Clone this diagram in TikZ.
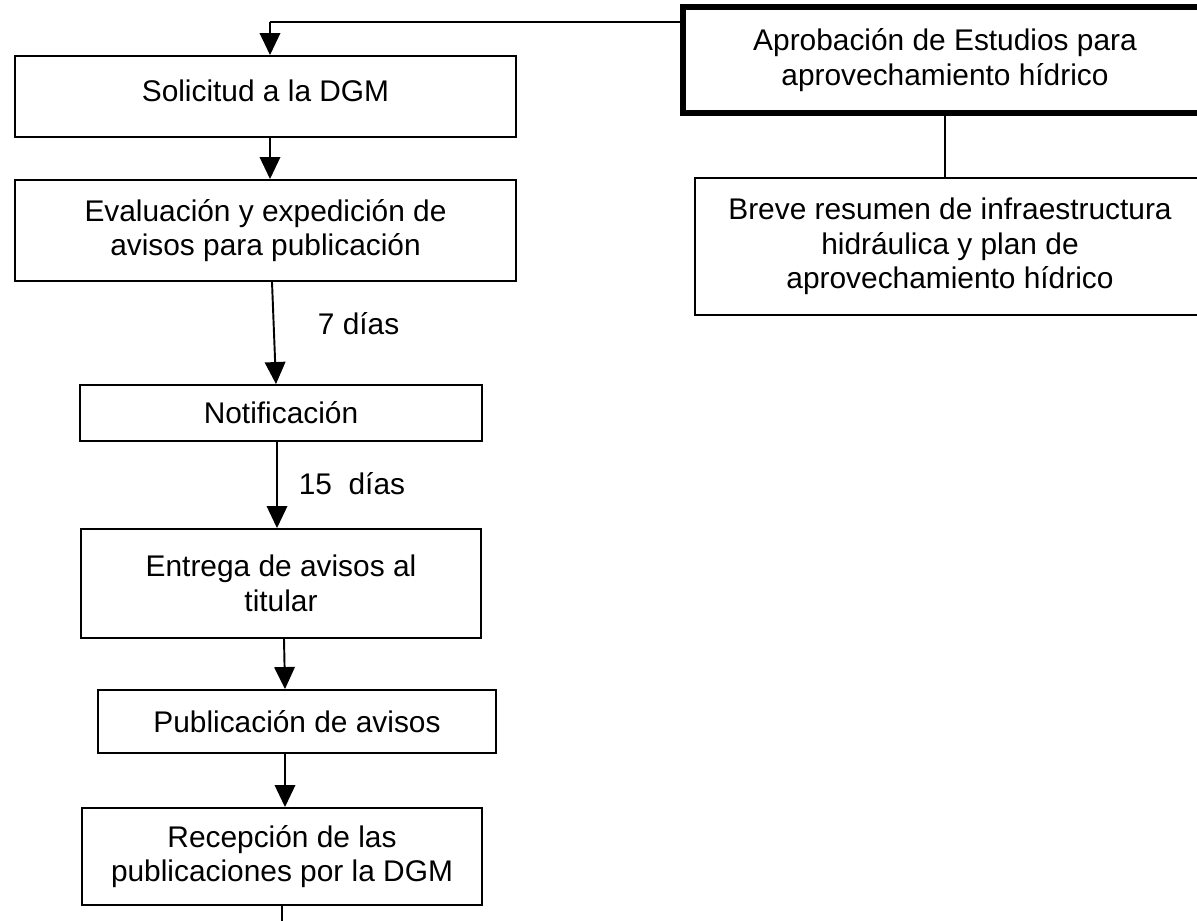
\documentclass[tikz,border=0pt]{standalone}
\usepackage{fontspec}
\setmainfont{Liberation Sans}
\usetikzlibrary{arrows.meta}

\begin{document}
\begin{tikzpicture}[x=0.02cm,y=-0.02cm,line width=1.1pt,->,>={Triangle[length=0.44cm,width=0.41cm]},font=\fontsize{17}{19.6}\selectfont,main node/.style={rectangle,draw,align=center,inner sep=0pt},thick node/.style={main node,line width=0.12cm}]
				
				\useasboundingbox (0,0) rectangle (1197,920);
				
				\node[main node,minimum width=10.02cm,minimum height=1.62cm] (1) at (265.5,96.5) {\raisebox{0.24cm}{Solicitud a la DGM}};
				\node[main node,minimum width=10.02cm,minimum height=2.02cm] (2) at (265.5,230.5) {Evaluación y expedición de\\avisos para publicación};
				\node[main node,minimum width=8.04cm,minimum height=1.12cm] (3) at (281,413) {Notificación};
				\node[main node,minimum width=8.0cm,minimum height=2.18cm] (4) at (281,583.5) {Entrega de avisos al\\titular};
				\node[main node,minimum width=7.96cm,minimum height=1.26cm] (5) at (297,721.5) {Publicación de avisos};
				\node[main node,minimum width=8.0cm,minimum height=1.94cm] (6) at (282,856.5) {Recepción de las\\publicaciones por la DGM};
				
				\node[thick node,minimum width=10.48cm,minimum height=2.12cm] (7) at (945,60) {Aprobación de Estudios para\\aprovechamiento hídrico};
				\node[main node,minimum width=10.2cm,minimum height=2.74cm] (8) at (950,246.5) {Breve resumen de infraestructura\\hidráulica y plan de\\aprovechamiento hídrico};
				
				\coordinate (top) at (270,22);
				\coordinate (end) at (282,935);
				
				\draw[-] (7.west |- top) -- (top);
				\draw (top) -- (top |- 1.north);
				\path[] ([xshift=0.09cm]1.south) edge ([xshift=0.09cm]2.north);
				\path[] ([xshift=0.13cm]2.south) edge node[pos=0.41,right=0.75cm] {7 días} ([xshift=-0.1cm]3.north);
				\path[] ([xshift=-0.08cm]3.south) edge node[pos=0.48,right=0.3cm] {15\ \ días} ([xshift=-0.08cm]4.north);
				\path[] ([xshift=0.06cm]4.south) edge ([xshift=-0.24cm]5.north);
				\path[] ([xshift=-0.24cm]5.south) edge ([xshift=0.06cm]6.north);
				\draw[-] (6.south) -- (end);
				
				\draw[-] (7.south) -- (7.south |- 8.north);
				
\end{tikzpicture}
\end{document}
